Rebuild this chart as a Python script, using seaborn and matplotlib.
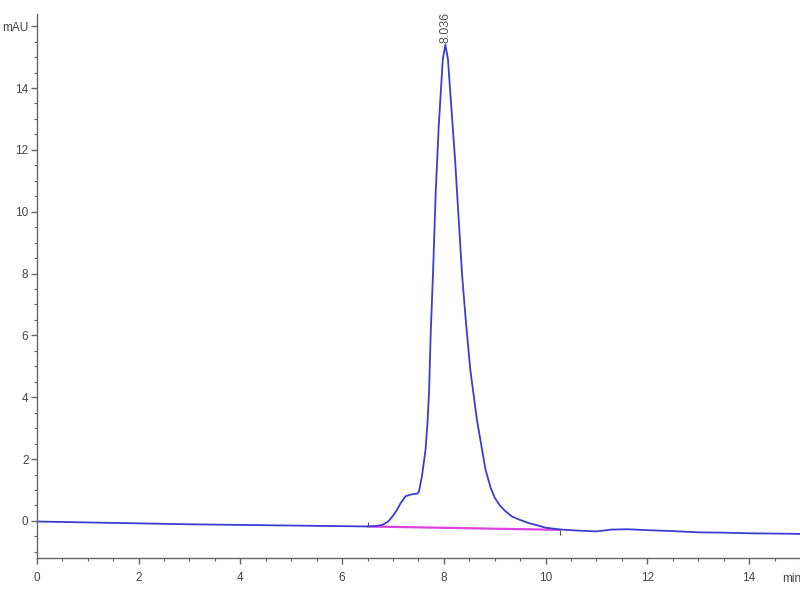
import matplotlib
matplotlib.use("Agg")
import matplotlib.pyplot as plt
import seaborn as sns
import pandas as pd
from matplotlib.ticker import MultipleLocator, FixedLocator

# Chromatogram signal (time in min, absorbance in mAU)
times = [0, 1, 2, 3, 4, 5, 6, 6.5, 6.65, 6.79, 6.9, 6.99, 7.08, 7.15, 7.25, 7.37,
         7.48, 7.51, 7.57, 7.64, 7.68, 7.71, 7.74, 7.79, 7.84, 7.90, 7.98, 8.03,
         8.08, 8.15, 8.22, 8.28, 8.36, 8.43, 8.52, 8.65, 8.82, 8.92, 9.0, 9.1,
         9.2, 9.34, 9.5, 9.67, 9.85, 10.0, 10.3, 10.6, 11.0, 11.3, 11.6, 12.0,
         12.5, 13.0, 13.5, 14.0, 14.5, 15.0]
signal = [-0.02, -0.05, -0.08, -0.11, -0.13, -0.15, -0.17, -0.18, -0.17, -0.13,
          -0.03, 0.14, 0.36, 0.57, 0.80, 0.86, 0.88, 0.95, 1.44, 2.30, 3.2, 4.2,
          5.97, 8.13, 10.62, 12.78, 14.94, 15.4, 14.94, 13.32, 11.70, 10.08, 7.92,
          6.51, 4.89, 3.27, 1.65, 1.07, 0.75, 0.50, 0.33, 0.14, 0.03, -0.07, -0.15,
          -0.22, -0.28, -0.31, -0.34, -0.28, -0.27, -0.30, -0.33, -0.37, -0.38,
          -0.40, -0.41, -0.42]

# Integration baseline
baseline_t = [6.5, 10.29]
baseline_v = [-0.18, -0.29]

peak_time = 8.036
peak_height = 15.4
peak_label = "8.036"

x_ticks = [0, 2, 4, 6, 8, 10, 12, 14]
y_ticks = [0, 2, 4, 6, 8, 10, 12, 14, 16]
y_tick_labels = ["0", "2", "4", "6", "8", "10", "12", "14", "mAU"]

sns.set_theme(style="white")
plt.rcParams['font.family'] = ['Liberation Sans', 'DejaVu Sans']

fig = plt.figure(figsize=(8, 6), dpi=100)
ax = fig.add_axes([0.046, 0.07, 0.954, 0.907])

df = pd.DataFrame({"t": times, "v": signal})
sns.lineplot(data=df, x="t", y="v", ax=ax, color="#3c3cd0", linewidth=1.3)
ax.plot(baseline_t, baseline_v, color="#e040e0", linewidth=1.6, zorder=1)
# small integration markers
ax.vlines([baseline_t[0]], baseline_v[0], baseline_v[0] + 0.15, color="#555555", linewidth=0.8)
ax.vlines([baseline_t[1]], baseline_v[1] - 0.15, baseline_v[1], color="#555555", linewidth=0.8)

ax.text(peak_time, peak_height + 0.05, peak_label, rotation=90, ha="center", va="bottom",
        fontsize=9, color="#555555")

ax.set_xlim(0, 15)
ax.set_ylim(-1.2, 16.4)
ax.xaxis.set_major_locator(FixedLocator(x_ticks))
ax.xaxis.set_minor_locator(MultipleLocator(0.5))
ax.yaxis.set_major_locator(FixedLocator(y_ticks))
ax.set_yticklabels(y_tick_labels)
ax.yaxis.set_minor_locator(MultipleLocator(0.5))
ax.set_xlabel("")
ax.set_ylabel("")

for s in ["top", "right"]:
    ax.spines[s].set_visible(False)
for s in ["left", "bottom"]:
    ax.spines[s].set_color("#666666")
    ax.spines[s].set_linewidth(1.0)

ax.tick_params(axis="both", which="major", direction="out", length=4, width=1,
               color="#666666", labelcolor="#444444", labelsize=8.5, bottom=True, left=True)
ax.tick_params(axis="both", which="minor", direction="out", length=2.5, width=0.8,
               color="#666666", bottom=True, left=True)
ax.tick_params(axis="x", pad=6)
ax.tick_params(axis="y", pad=2)

fig.text(0.99, 0.035, "min", ha="center", va="center", fontsize=8.5, color="#444444")

fig.savefig("out.png", dpi=100)
